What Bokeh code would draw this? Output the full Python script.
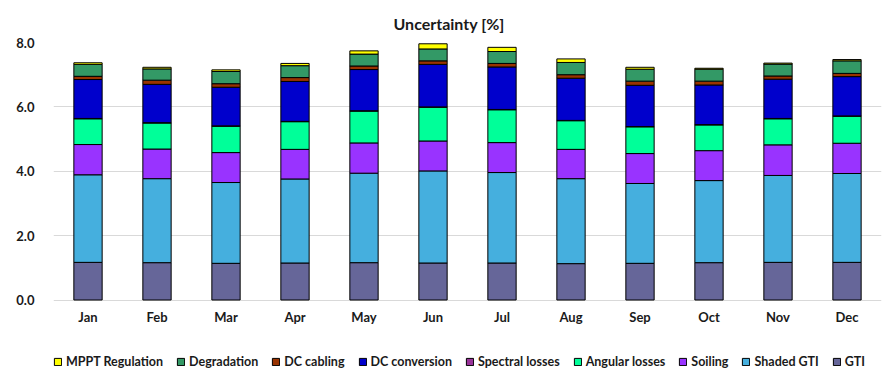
from bokeh.plotting import figure
from bokeh.models import ColumnDataSource, Legend, LegendItem, FactorRange, Title
from bokeh.models import NumeralTickFormatter, FixedTicker, Range1d
from bokeh.core.properties import value
from bokeh.embed import file_html
from bokeh.resources import INLINE

months = ["Jan", "Feb", "Mar", "Apr", "May", "Jun",
          "Jul", "Aug", "Sep", "Oct", "Nov", "Dec"]

# Uncertainty contributions per month [%], stacked bottom to top
gti = [1.17, 1.16, 1.14, 1.15, 1.16, 1.15, 1.15, 1.13, 1.14, 1.16, 1.17, 1.17]
shaded_gti = [2.72, 2.61, 2.51, 2.61, 2.78, 2.86, 2.81, 2.64, 2.48, 2.55, 2.70, 2.76]
soiling = [0.94, 0.92, 0.93, 0.92, 0.94, 0.93, 0.93, 0.91, 0.93, 0.93, 0.95, 0.94]
angular_losses = [0.80, 0.81, 0.82, 0.86, 0.99, 1.05, 1.02, 0.89, 0.83, 0.80, 0.81, 0.84]
spectral_losses = [0.01, 0.01, 0.01, 0.01, 0.01, 0.01, 0.01, 0.01, 0.01, 0.01, 0.01, 0.01]
dc_conversion = [1.21, 1.19, 1.20, 1.24, 1.28, 1.32, 1.32, 1.31, 1.28, 1.23, 1.22, 1.22]
dc_cabling = [0.10, 0.13, 0.11, 0.12, 0.11, 0.11, 0.11, 0.11, 0.13, 0.12, 0.10, 0.10]
degradation = [0.37, 0.35, 0.38, 0.37, 0.37, 0.37, 0.37, 0.38, 0.37, 0.37, 0.37, 0.39]
mppt_regulation = [0.05, 0.05, 0.05, 0.07, 0.10, 0.16, 0.13, 0.11, 0.06, 0.03, 0.03, 0.04]

series_names = ["GTI", "Shaded GTI", "Soiling", "Angular losses", "Spectral losses",
                "DC conversion", "DC cabling", "Degradation", "MPPT Regulation"]
series_values = [gti, shaded_gti, soiling, angular_losses, spectral_losses,
                 dc_conversion, dc_cabling, degradation, mppt_regulation]
series_colors = ["#666699", "#45AFDE", "#9933FF", "#00FF99", "#993399",
                 "#0000CC", "#993300", "#339966", "#FFFF00"]

FONT = "Lato"
TEXT_COLOR = "#1a1a1a"

data = {"month": months}
keys = []
for i, vals in enumerate(series_values):
    k = f"s{i}"
    keys.append(k)
    data[k] = vals
source = ColumnDataSource(data)

# the frame reaches down to the canvas bottom so the month names and the
# legend can sit inside it, below the zero line
p = figure(x_range=FactorRange(*months, range_padding=0),
           y_range=Range1d(-2.19, 8),
           frame_width=828, frame_height=328, output_backend="svg",
           toolbar_location=None,
           min_border_left=53, min_border_right=7, min_border_top=42,
           min_border_bottom=0)
p.outline_line_color = None

renderers = p.vbar_stack(keys, x="month", width=0.41, source=source,
                         color=series_colors, line_color="black", line_width=1)

# month names under each bar
p.text(x="month", y=-0.52, text="month", source=source,
       text_font=value(FONT), text_font_size="13px", text_font_style="bold",
       text_color=TEXT_COLOR, text_align="center", text_baseline="middle")

# title
p.title = Title(text="Uncertainty [%]", align="left", offset=340,
                text_font=FONT, text_font_size="16px", text_font_style="bold",
                text_color=TEXT_COLOR, standoff=19)

# axes
p.xaxis.visible = False
p.yaxis.ticker = FixedTicker(ticks=[0, 2, 4, 6, 8])
p.yaxis.formatter = NumeralTickFormatter(format="0.0")
p.yaxis.axis_line_color = None
p.yaxis.major_tick_line_color = None
p.yaxis.minor_tick_line_color = None
p.yaxis.major_label_standoff = 13
p.yaxis.major_label_text_font = FONT
p.yaxis.major_label_text_font_size = "13px"
p.yaxis.major_label_text_font_style = "bold"
p.yaxis.major_label_text_color = TEXT_COLOR

p.xgrid.grid_line_color = None
p.ygrid.ticker = FixedTicker(ticks=[0, 2, 4, 6, 8])
p.ygrid.grid_line_color = "#d9d9d9"
p.ygrid.grid_line_width = 1

# legend, top series first
items = [LegendItem(label=n, renderers=[r])
         for n, r in zip(series_names[::-1], renderers[::-1])]
legend = Legend(items=items, orientation="horizontal", location=(0, 1),
                border_line_color=None, background_fill_alpha=0,
                glyph_width=9, glyph_height=9, label_standoff=4, spacing=13,
                padding=0, margin=0,
                label_text_font=FONT, label_text_font_size="12.5px",
                label_text_font_style="bold", label_text_color=TEXT_COLOR)
p.add_layout(legend, "center")

open("out.html", "w").write(file_html(p, INLINE))
